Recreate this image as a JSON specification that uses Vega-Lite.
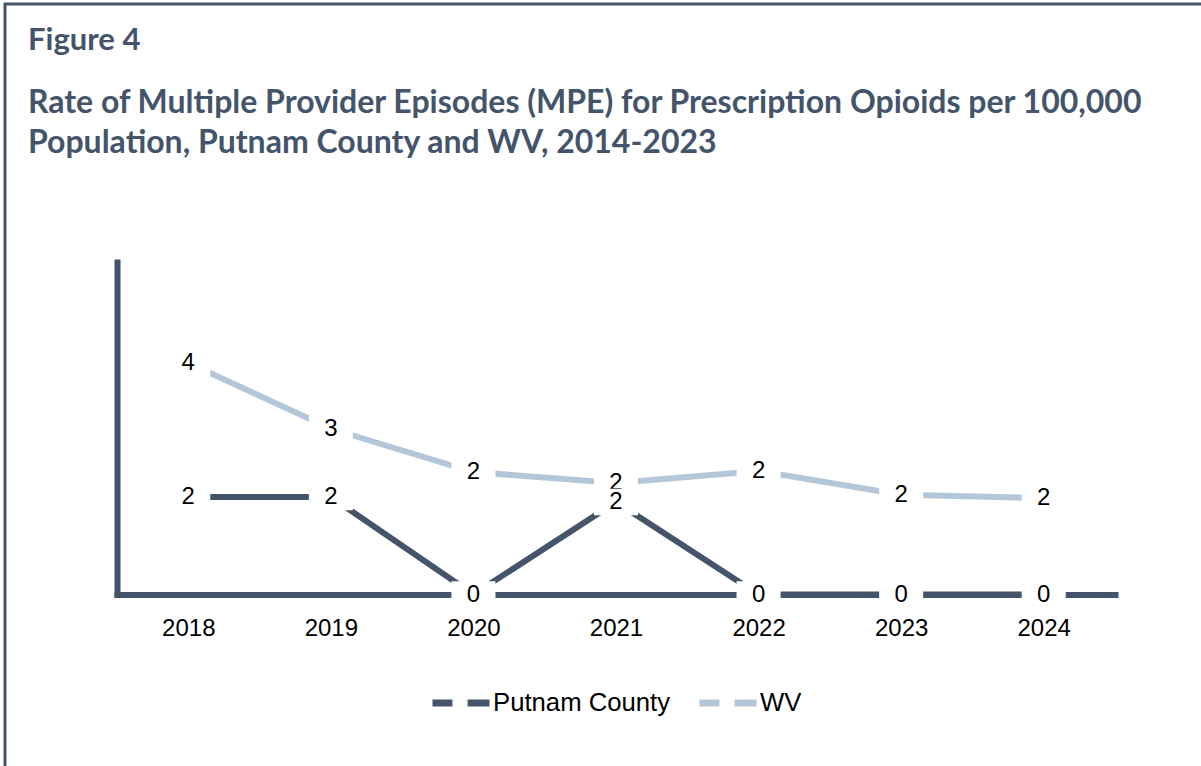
{
  "$schema": "https://vega.github.io/schema/vega-lite/v6.json",
  "width": 1208,
  "height": 780,
  "autosize": {"type": "none"},
  "padding": {"left": 5, "top": 4, "right": -12, "bottom": -18},
  "background": "white",
  "title": {
    "text": "Figure 4",
    "subtitle": ["Rate of Multiple Provider Episodes (MPE) for Prescription Opioids per 100,000", "Population, Putnam County and WV, 2014-2023"],
    "anchor": "start",
    "frame": "group",
    "dx": 23,
    "offset": -156,
    "font": "Lato",
    "fontSize": 31,
    "fontWeight": "bold",
    "color": "#44546a",
    "subtitleFont": "Lato",
    "subtitleFontSize": 32,
    "subtitleFontWeight": "bold",
    "subtitleColor": "#44546a",
    "subtitleLineHeight": 40,
    "subtitlePadding": 31
  },
  "config": {
    "view": {"stroke": "#44546a", "strokeWidth": 3, "fill": "white"}
  },
  "data": {
    "values": [
      {"year": "2018", "series": "Putnam County", "rate": 1.76},
      {"year": "2019", "series": "Putnam County", "rate": 1.76},
      {"year": "2020", "series": "Putnam County", "rate": 0},
      {"year": "2021", "series": "Putnam County", "rate": 1.67},
      {"year": "2022", "series": "Putnam County", "rate": 0},
      {"year": "2023", "series": "Putnam County", "rate": 0},
      {"year": "2024", "series": "Putnam County", "rate": 0},
      {"year": "2018", "series": "WV", "rate": 4.18},
      {"year": "2019", "series": "WV", "rate": 2.99},
      {"year": "2020", "series": "WV", "rate": 2.21},
      {"year": "2021", "series": "WV", "rate": 2.01},
      {"year": "2022", "series": "WV", "rate": 2.23},
      {"year": "2023", "series": "WV", "rate": 1.8},
      {"year": "2024", "series": "WV", "rate": 1.74}
    ]
  },
  "encoding": {
    "x": {
      "field": "year",
      "type": "ordinal",
      "scale": {"type": "point", "range": [112, 1110], "padding": 0.5},
      "axis": {
        "title": null,
        "orient": "bottom",
        "offset": -189.5,
        "domain": true,
        "domainColor": "#44546a",
        "domainWidth": 6,
        "domainCap": "square",
        "ticks": false,
        "tickSize": 0,
        "grid": false,
        "labelAngle": 0,
        "labelFont": "Liberation Sans",
        "labelFontSize": 24,
        "labelColor": "#000000",
        "labelPadding": 22,
        "zindex": 0
      }
    },
    "y": {
      "field": "rate",
      "type": "quantitative",
      "scale": {"domain": [0, 6], "range": [590.5, 258], "nice": false, "zero": true},
      "axis": {
        "title": null,
        "orient": "left",
        "offset": -112,
        "domain": true,
        "domainColor": "#44546a",
        "domainWidth": 6,
        "domainCap": "square",
        "ticks": false,
        "labels": false,
        "grid": false,
        "zindex": 0
      }
    }
  },
  "layer": [
    {
      "mark": {"type": "line", "strokeWidth": 6, "strokeCap": "butt"},
      "encoding": {
        "color": {
          "field": "series",
          "type": "nominal",
          "scale": {"domain": ["Putnam County", "WV"], "range": ["#44546a", "#b4c7d9"]},
          "legend": {
            "title": null,
            "orient": "none",
            "direction": "horizontal",
            "legendX": 424,
            "legendY": 667,
            "symbolType": "M-1,0L-0.3,0M0.23,0L1,0",
            "symbolSize": 3249,
            "symbolStrokeWidth": 7,
            "labelFont": "Liberation Sans",
            "labelFontSize": 25.7,
            "labelColor": "#000000",
            "labelOffset": 0,
            "labelLimit": 400,
            "columnPadding": 14
          }
        }
      }
    },
    {
      "transform": [{"filter": "datum.series === 'WV'"}],
      "mark": {"type": "point", "shape": "M-1,-0.6L1,-0.6L1,0.6L-1,0.6Z", "filled": true, "fill": "white", "size": 1936, "opacity": 1, "strokeWidth": 0}
    },
    {
      "transform": [{"filter": "datum.series === 'WV'"}],
      "mark": {"type": "text", "font": "Liberation Sans", "fontSize": 24, "color": "#000000", "baseline": "middle", "align": "center"},
      "encoding": {"text": {"field": "rate", "type": "quantitative", "format": ".0f"}}
    },
    {
      "transform": [{"filter": "datum.series === 'Putnam County'"}],
      "mark": {"type": "point", "shape": "M-1,-0.6L1,-0.6L1,0.6L-1,0.6Z", "filled": true, "fill": "white", "size": 1936, "opacity": 1, "strokeWidth": 0}
    },
    {
      "transform": [{"filter": "datum.series === 'Putnam County'"}],
      "mark": {"type": "text", "font": "Liberation Sans", "fontSize": 24, "color": "#000000", "baseline": "middle", "align": "center"},
      "encoding": {"text": {"field": "rate", "type": "quantitative", "format": ".0f"}}
    }
  ]
}
